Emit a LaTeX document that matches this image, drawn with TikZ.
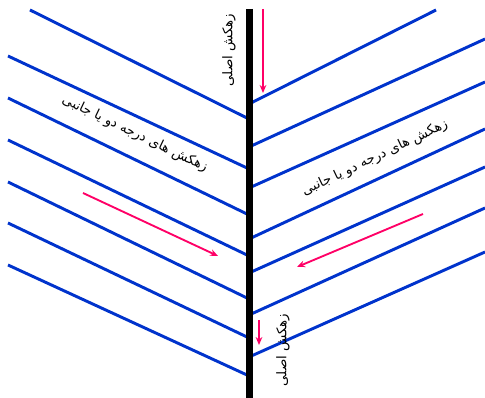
\documentclass[tikz,border=0pt]{standalone}
\usepackage{fontspec}
\usetikzlibrary{arrows.meta}
\newfontfamily\arabicfont[Script=Arabic]{DejaVu Sans}
\TeXXeTstate=1
\definecolor{drainblue}{RGB}{0,51,204}
\definecolor{arrowpink}{RGB}{255,0,102}
\tikzset{
  lateral/.style={draw=drainblue, line width=2.2pt, line cap=butt},
  mainline/.style={draw=black, line width=4.8pt},
  flowarrow/.style={draw=arrowpink, line width=1.4pt, -{Stealth[length=6pt,width=5pt]}},
  label/.style={font=\arabicfont\fontsize{10}{12}\selectfont, inner sep=0pt}
}
\begin{document}
\begin{tikzpicture}[x=0.75pt,y=-0.75pt]
\useasboundingbox (0,0) rectangle (485,398);
% left laterals
\foreach \sx/\sy/\ey [count=\i] in {30/10/118, 8/56/168, 8/98/214, 8/140/255, 8/182/298, 8/223/337, 8/265/375}{
  \coordinate (ls\i) at (\sx,\sy);
  \coordinate (le\i) at (247,\ey);
  \draw[lateral] (ls\i) -- (le\i);
}
% right laterals
\foreach \sy/\ex/\ey [count=\i] in {104/436/10, 147/485/39, 188/485/82, 239/485/129, 273/485/167, 315/485/208, 357/485/252}{
  \coordinate (rs\i) at (249,\sy);
  \coordinate (re\i) at (\ex,\ey);
  \draw[lateral] (rs\i) -- (re\i);
}
% main drain
\coordinate (mtop) at (249.5,9);
\coordinate (mbot) at (249.5,398);
\draw[mainline] (mtop) -- (mbot);
% flow arrows
\coordinate (a1s) at (263,9);   \coordinate (a1e) at (263,93);
\coordinate (a2s) at (83,193);  \coordinate (a2e) at (218,256);
\coordinate (a3s) at (423,214); \coordinate (a3e) at (297,267);
\coordinate (a4s) at (259,320); \coordinate (a4e) at (259,345);
\draw[flowarrow] (a1s) -- (a1e);
\draw[flowarrow] (a2s) -- (a2e);
\draw[flowarrow] (a3s) -- (a3e);
\draw[flowarrow] (a4s) -- (a4e);
% labels
\node[label, rotate=90] (t1) at (229,50) {\beginR زهکش اصلی\endR};
\node[label, rotate=90] (t2) at (283,350) {\beginR زهکش اصلی\endR};
\node[label, rotate=-25.5] (t3) at (135,134) {\beginR زهکش های درجه دو یا جانبی\endR};
\node[label, rotate=25.5] (t4) at (375,158) {\beginR زهکش های درجه دو یا جانبی\endR};
\end{tikzpicture}
\end{document}
